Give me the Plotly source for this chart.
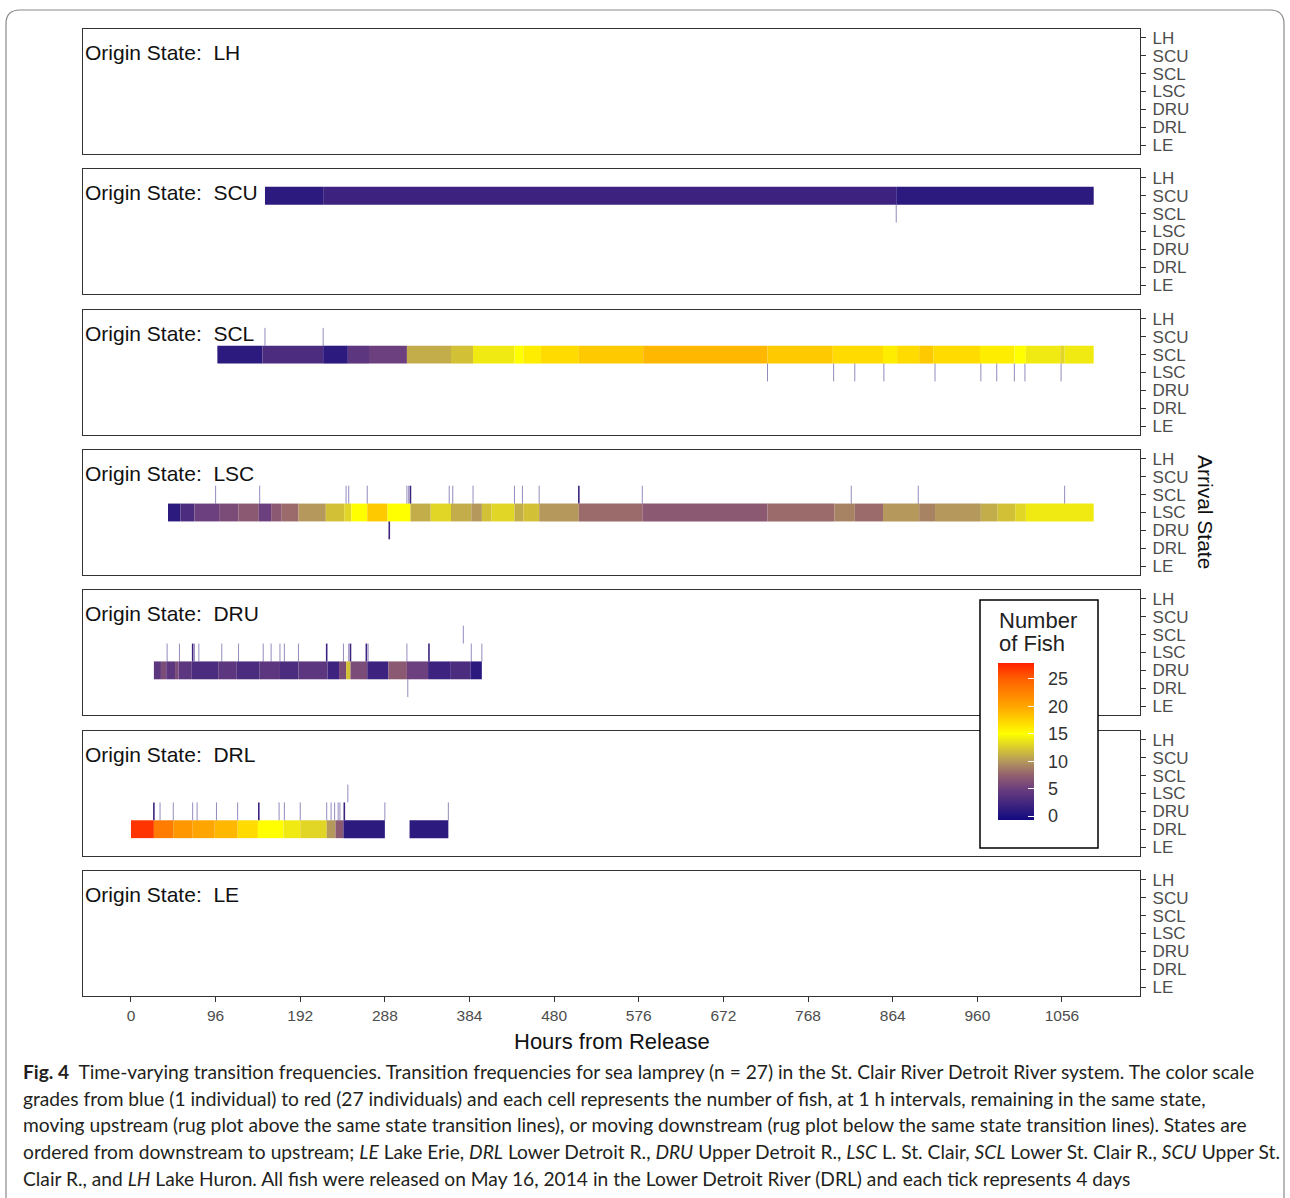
import plotly.graph_objects as go

W, H = 1290, 1198

# ---------------- data ----------------
STATES = ["LE", "DRL", "DRU", "LSC", "SCL", "SCU", "LH"]          # bottom -> top
PANELS = ["LH", "SCU", "SCL", "LSC", "DRU", "DRL", "LE"]          # top -> bottom
X_TICKS = [0, 96, 192, 288, 384, 480, 576, 672, 768, 864, 960, 1056]
LEGEND_TICKS = [0, 5, 10, 15, 20, 25]

# occupancy segments (origin state = arrival state), hours and number of fish
scu_start = [152, 218, 868]
scu_end = [218, 868, 1092]
scu_n = [1, 2, 1]

scl_start = [98, 149, 218, 246, 270, 313, 363, 388, 435, 445, 465, 508, 581, 722, 796, 853, 869, 894, 910, 963, 1002, 1015, 1054, 1059]
scl_end = [149, 218, 246, 270, 313, 363, 388, 435, 445, 465, 508, 581, 722, 796, 853, 869, 894, 910, 963, 1002, 1015, 1054, 1059, 1092]
scl_n = [1, 3, 1, 4, 5, 11, 12, 14, 15, 16, 17, 18, 19, 18, 17, 16, 17, 18, 17, 16, 15, 14, 13, 14]

lsc_start = [42, 56, 72, 100, 122, 145, 159, 171, 190, 221, 242, 250, 268, 291, 317, 340, 363, 386, 398, 409, 435, 445, 463, 508, 580, 722, 798, 821, 853, 894, 912, 964, 983, 1003, 1015]
lsc_end = [56, 72, 100, 122, 145, 159, 171, 190, 221, 242, 250, 268, 291, 317, 340, 363, 386, 398, 409, 435, 445, 463, 508, 580, 722, 798, 821, 853, 894, 912, 964, 983, 1003, 1015, 1092]
lsc_n = [1, 3, 5, 6, 7, 5, 7, 8, 10, 12, 13, 15, 18, 15, 11, 13, 11, 10, 12, 13, 11, 12, 10, 8, 7, 8, 9, 8, 10, 9, 10, 11, 12, 13, 14]

dru_start = [26, 34, 40, 50, 54, 69, 99, 120, 146, 169, 190, 223, 236, 244, 249, 268, 292, 313, 337, 362, 385]
dru_end = [34, 40, 50, 54, 69, 99, 120, 146, 169, 190, 223, 236, 244, 249, 268, 292, 313, 337, 362, 385, 398]
dru_n = [4, 6, 4, 6, 4, 3, 4, 3, 4, 3, 4, 2, 6, 12, 6, 2, 7, 5, 2, 3, 1]

drl_start = [0, 26, 48, 70, 95, 121, 144, 173, 192, 222, 232, 241, 316]
drl_end = [26, 48, 70, 95, 121, 144, 173, 192, 222, 232, 241, 288, 360]
drl_n = [27, 23, 21, 20, 19, 17, 15, 14, 13, 10, 7, 1, 1]

# transitions to another state (hour, arrival state, number of fish)
scu_move_hour = [868]
scu_move_to = ["SCL"]
scu_move_n = [1]

scl_move_hour = [152, 218, 722, 797, 821, 854, 912, 964, 982, 1002, 1014, 1055]
scl_move_to = ["SCU", "SCU", "LSC", "LSC", "LSC", "LSC", "LSC", "LSC", "LSC", "LSC", "LSC", "LSC"]
scl_move_n = [1, 1, 1, 1, 1, 1, 1, 1, 1, 1, 1, 1]

lsc_move_hour = [96, 146, 244, 247, 268, 313, 315, 317, 361, 365, 388, 435, 444, 463, 508, 580, 817, 893, 1059, 293]
lsc_move_to = ["SCL"] * 19 + ["DRU"]
lsc_move_n = [1, 1, 1, 1, 1, 1, 1, 2, 1, 1, 1, 1, 1, 1, 2, 1, 1, 1, 1, 2]

dru_move_hour = [41, 55, 70, 72, 77, 103, 122, 150, 159, 169, 174, 190, 222, 241, 247, 249, 267, 269, 313, 338, 386, 398, 377, 314]
dru_move_to = ["LSC"] * 22 + ["SCL", "DRL"]
dru_move_n = [1, 1, 2, 1, 1, 1, 1, 1, 1, 1, 1, 1, 2, 1, 1, 2, 2, 1, 1, 2, 1, 1, 1, 1]

drl_move_hour = [26, 33, 48, 70, 75, 97, 121, 145, 168, 174, 192, 222, 227, 231, 235, 237, 242, 288, 360, 246]
drl_move_to = ["DRU"] * 19 + ["LSC"]
drl_move_n = [2, 1, 1, 1, 1, 1, 1, 2, 1, 1, 1, 1, 1, 1, 1, 1, 2, 1, 1, 1]

SEGMENTS = {
    "SCU": (scu_start, scu_end, scu_n),
    "SCL": (scl_start, scl_end, scl_n),
    "LSC": (lsc_start, lsc_end, lsc_n),
    "DRU": (dru_start, dru_end, dru_n),
    "DRL": (drl_start, drl_end, drl_n),
}
MOVES = {
    "SCU": (scu_move_hour, scu_move_to, scu_move_n),
    "SCL": (scl_move_hour, scl_move_to, scl_move_n),
    "LSC": (lsc_move_hour, lsc_move_to, lsc_move_n),
    "DRU": (dru_move_hour, dru_move_to, dru_move_n),
    "DRL": (drl_move_hour, drl_move_to, drl_move_n),
}

# ---------------- styling ----------------
CMIN, CMAX = -0.7, 27.9
SCALE_VALS = [CMIN, 5, 7.5, 10, 15, 20, 25, CMAX]
SCALE_COLS = ["#120a80", "#6c3f7e", "#93606e", "#b4985c", "#ffff00", "#ffa500", "#ff6000", "#ff2000"]
COLORSCALE = [[(v - CMIN) / (CMAX - CMIN), c] for v, c in zip(SCALE_VALS, SCALE_COLS)]


def hex2rgb(h):
    h = h.lstrip("#")
    return tuple(int(h[i:i + 2], 16) for i in (0, 2, 4))


def scale_color(v):
    for i in range(len(SCALE_VALS) - 1):
        a, b = SCALE_VALS[i], SCALE_VALS[i + 1]
        if a <= v <= b:
            t = (v - a) / (b - a)
            c1, c2 = hex2rgb(SCALE_COLS[i]), hex2rgb(SCALE_COLS[i + 1])
            return "rgb(%d,%d,%d)" % tuple(round(x + t * (y - x)) for x, y in zip(c1, c2))
    return SCALE_COLS[-1]


FONT = "Liberation Sans, Arial, sans-serif"
PANEL_TOPS = [29, 169, 310, 450, 590, 731, 871]
PANEL_H = 125
X_LEFT, X_RIGHT = 83, 1140
X_RANGE = [-54.4, 1144.5]
NB = "\u00a0"


def px(x, y):
    return "%.5f,%.5f" % (x / W, 1 - y / H)


fig = go.Figure()
layout = dict(
    width=W, height=H, autosize=False,
    margin=dict(l=0, r=0, t=0, b=0),
    paper_bgcolor="white", plot_bgcolor="white",
    showlegend=False,
    barmode="overlay",
    font=dict(family=FONT),
)

for i, origin in enumerate(PANELS):
    k = "" if i == 0 else str(i + 1)
    xa, ya = "x" + k, "y" + k
    top = PANEL_TOPS[i]
    y0 = 1 - (top + PANEL_H) / H
    y1 = 1 - top / H
    last = (i == len(PANELS) - 1)
    layout["xaxis" + k] = dict(
        domain=[X_LEFT / W, X_RIGHT / W], anchor=ya, range=X_RANGE,
        showline=True, mirror=True, linecolor="#333333", linewidth=1.3,
        showgrid=False, zeroline=False, fixedrange=True,
        tickvals=X_TICKS, showticklabels=last,
        ticks="outside" if last else "", ticklen=5, tickcolor="#333333",
        tickfont=dict(size=15.5, color="#4d4d4d", family=FONT),
        **({"matches": "x"} if i > 0 else {}),
    )
    layout["yaxis" + k] = dict(
        domain=[y0, y1], anchor=xa, range=[-0.5, 6.5], side="right",
        tickvals=list(range(len(STATES))), ticktext=STATES,
        ticks="outside", ticklen=5, tickcolor="#333333", ticklabelstandoff=3,
        tickfont=dict(size=17, color="#4d4d4d", family=FONT),
        showline=True, mirror=True, linecolor="#333333", linewidth=1.3,
        showgrid=False, zeroline=False, fixedrange=True,
    )

    # invisible anchor trace so that every panel (even empty ones) is drawn
    fig.add_trace(go.Scatter(x=[0], y=[-3], mode="markers", marker=dict(opacity=0),
                             xaxis=xa, yaxis=ya, hoverinfo="skip"))

    if origin in SEGMENTS:
        s, e, n = SEGMENTS[origin]
        row = STATES.index(origin)
        fig.add_trace(go.Bar(
            orientation="h", y=[row] * len(s), base=s,
            x=[b - a for a, b in zip(s, e)], width=1,
            marker=dict(color=n, coloraxis="coloraxis", line=dict(width=0)),
            xaxis=xa, yaxis=ya, hoverinfo="skip",
        ))
        hrs, dest, cnt = MOVES[origin]
        for level in sorted(set(cnt)):
            xs, ys = [], []
            for h, d, c in zip(hrs, dest, cnt):
                if c != level:
                    continue
                r = STATES.index(d)
                xs += [h, h, None]
                ys += [r - 0.5, r + 0.5, None]
            fig.add_trace(go.Scatter(
                x=xs, y=ys, mode="lines",
                line=dict(color=scale_color(level), width=1.0 if level == 1 else 1.6),
                opacity=0.5 if level == 1 else 1.0,
                xaxis=xa, yaxis=ya, hoverinfo="skip",
            ))

layout["coloraxis"] = dict(
    cmin=CMIN, cmax=CMAX, colorscale=COLORSCALE,
    colorbar=dict(
        thicknessmode="pixels", thickness=36,
        lenmode="pixels", len=157,
        x=981 / W, xanchor="left", y=1 - 663 / H, yanchor="top",
        xpad=17, ypad=0,
        bgcolor="rgba(0,0,0,0)", borderwidth=0, outlinewidth=0,
        tickvals=LEGEND_TICKS, ticktext=[NB + NB + str(v) for v in LEGEND_TICKS],
        ticks="inside", ticklen=6, tickcolor="white", tickwidth=1.2,
        tickfont=dict(size=18, color="#333333", family=FONT),
    ),
)

annotations = []
for i, origin in enumerate(PANELS):
    annotations.append(dict(
        text="Origin State:  " + origin, xref="paper", yref="paper",
        x=83 / W, y=1 - (PANEL_TOPS[i] + 23) / H, xanchor="left", yanchor="middle",
        showarrow=False, font=dict(size=21, color="#111111", family=FONT),
    ))
for txt, yy in zip(["Number", "of Fish"], [620, 643]):
    annotations.append(dict(
        text=txt, xref="paper", yref="paper", x=997 / W, y=1 - yy / H,
        xanchor="left", yanchor="middle", showarrow=False,
        font=dict(size=22, color="#222222", family=FONT),
    ))
annotations.append(dict(
    text="Arrival State", xref="paper", yref="paper", x=1206 / W, y=1 - 512 / H,
    textangle=90, showarrow=False, xanchor="center", yanchor="middle",
    font=dict(size=21, color="#111111", family=FONT),
))
annotations.append(dict(
    text="Hours from Release", xref="paper", yref="paper", x=611.5 / W, y=1 - 1041 / H,
    showarrow=False, xanchor="center", yanchor="middle",
    font=dict(size=22, color="#111111", family=FONT),
))

CAPTION = [
    "<b>Fig. 4</b>  Time-varying transition frequencies. Transition frequencies for sea lamprey (n = 27) in the St. Clair River Detroit River system. The color scale",
    "grades from blue (1 individual) to red (27 individuals) and each cell represents the number of fish, at 1 h intervals, remaining in the same state,",
    "moving upstream (rug plot above the same state transition lines), or moving downstream (rug plot below the same state transition lines). States are",
    "ordered from downstream to upstream; <i>LE</i> Lake Erie, <i>DRL</i> Lower Detroit R., <i>DRU</i> Upper Detroit R., <i>LSC</i> L. St. Clair, <i>SCL</i> Lower St. Clair R., <i>SCU</i> Upper St.",
    "Clair R., and <i>LH</i> Lake Huron. All fish were released on May 16, 2014 in the Lower Detroit River (DRL) and each tick represents 4 days",
]
CAP_Y = [1071, 1098, 1124, 1151, 1178]
for line, yy in zip(CAPTION, CAP_Y):
    annotations.append(dict(
        text=line, xref="paper", yref="paper", x=21 / W, y=1 - yy / H,
        xanchor="left", yanchor="middle", showarrow=False,
        font=dict(size=19.2, color="#231f20", family="Lato, Open Sans, sans-serif"),
    ))
layout["annotations"] = annotations

frame = ("M " + px(6, 1198) + " L " + px(6, 24) + " Q " + px(6, 10) + " " + px(20, 10) +
         " L " + px(1270, 10) + " Q " + px(1284, 10) + " " + px(1284, 24) + " L " + px(1284, 1198))
layout["shapes"] = [
    dict(type="path", xref="paper", yref="paper", path=frame,
         line=dict(color="#8a8a8a", width=1.2)),
    # legend box behind the colour bar
    dict(type="rect", xref="paper", yref="paper", layer="above",
         x0=980 / W, x1=1098 / W, y0=1 - 848 / H, y1=1 - 600 / H,
         fillcolor="white", line=dict(color="black", width=1.5)),
]

fig.update_layout(**layout)
fig.write_html("out.html", config={"displayModeBar": False},
               post_script="document.body.style.margin='0';document.body.style.overflow='hidden';")
